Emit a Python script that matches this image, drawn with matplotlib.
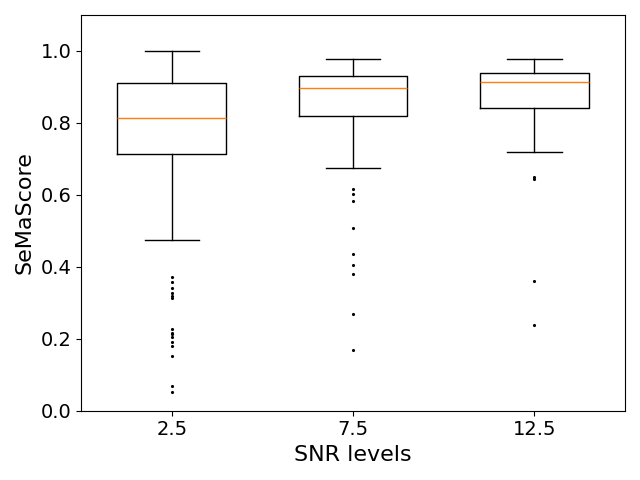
import matplotlib
matplotlib.use('Agg')
import matplotlib.pyplot as plt

snr_labels = ['2.5', '7.5', '12.5']

whislo = [0.474, 0.674, 0.719]
q1 = [0.713, 0.819, 0.841]
med = [0.813, 0.897, 0.914]
q3 = [0.911, 0.930, 0.939]
whishi = [1.0, 0.978, 0.978]

fliers_25 = [0.373, 0.358, 0.342, 0.326, 0.320, 0.313, 0.228, 0.217, 0.212,
             0.204, 0.191, 0.180, 0.152, 0.069, 0.052]
fliers_75 = [0.617, 0.602, 0.584, 0.509, 0.436, 0.406, 0.381, 0.269, 0.168]
fliers_125 = [0.650, 0.645, 0.361, 0.239]
fliers = [fliers_25, fliers_75, fliers_125]

stats = []
for i, lab in enumerate(snr_labels):
    stats.append({'label': lab, 'whislo': whislo[i], 'q1': q1[i], 'med': med[i],
                  'q3': q3[i], 'whishi': whishi[i], 'fliers': fliers[i]})

fig, ax = plt.subplots(figsize=(6.4, 4.8), dpi=100)
ax.bxp(stats, widths=0.6,
       flierprops=dict(marker='.', markersize=2.5, markerfacecolor='black',
                       markeredgecolor='black'))
ax.set_ylim(0, 1.1)
ax.set_xlabel('SNR levels', fontsize=16)
ax.set_ylabel('SeMaScore', fontsize=16)
ax.tick_params(labelsize=14)
plt.tight_layout()
plt.savefig('out.png')
